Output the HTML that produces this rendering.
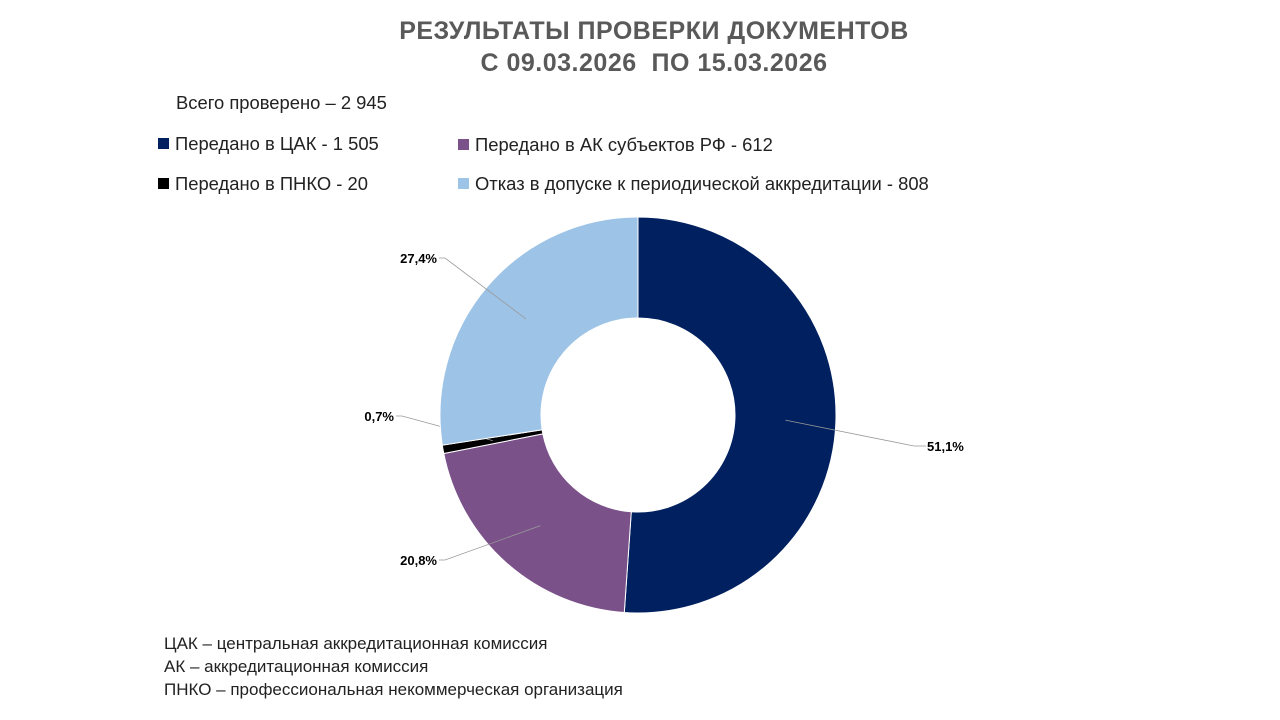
<!DOCTYPE html>
<html><head><meta charset="utf-8">
<style>
body{margin:0;width:1280px;height:720px;background:#fff;font-family:"Liberation Sans","DejaVu Sans",sans-serif;position:relative;overflow:hidden}
.t{position:absolute;white-space:nowrap}
.title{left:0;width:1280px;text-align:center;font-weight:bold;color:#595959;font-size:25px;letter-spacing:0.5px;line-height:32px}
.leg{font-size:18.4px;color:#222}
.sq{display:inline-block;width:11px;height:11px;margin-right:6px;vertical-align:1px}
.note{font-size:17px;color:#222;left:164px}
</style></head><body>
<div class="t title" style="top:15px;left:14px">РЕЗУЛЬТАТЫ ПРОВЕРКИ ДОКУМЕНТОВ<br>С 09.03.2026&nbsp; ПО 15.03.2026</div>
<div class="t leg" style="left:176px;top:92px">Всего проверено – 2 945</div>
<div class="t leg" style="left:158px;top:133px"><span class="sq" style="background:#002060"></span>Передано в ЦАК - 1 505</div>
<div class="t leg" style="left:458px;top:134px"><span class="sq" style="background:#7a5189"></span>Передано в АК субъектов РФ - 612</div>
<div class="t leg" style="left:158px;top:173px"><span class="sq" style="background:#000"></span>Передано в ПНКО - 20</div>
<div class="t leg" style="left:458px;top:173px"><span class="sq" style="background:#9dc3e6"></span>Отказ в допуске к периодической аккредитации - 808</div>
<svg id="c" width="1280" height="720" style="position:absolute;left:0;top:0"></svg>
<div class="t note" style="top:634px">ЦАК – центральная аккредитационная комиссия</div>
<div class="t note" style="top:657px">АК – аккредитационная комиссия</div>
<div class="t note" style="top:680px">ПНКО – профессиональная некоммерческая организация</div>
<script>
const categories=["ЦАК","АК","ПНКО","Отказ"];
const values=[1505,612,20,808];
const labels=["51,1%","20,8%","0,7%","27,4%"];
const colors=["#002060","#7a5189","#000000","#9dc3e6"];
const labelPos=[[946,451],[437,565],[394,421],[437,263]];
const svg=document.getElementById('c');const NS="http://www.w3.org/2000/svg";
const cx=638,cy=415,R=198,r=97;
const total=values.reduce((a,b)=>a+b,0);
function pt(a,rad){return [cx+rad*Math.sin(a),cy-rad*Math.cos(a)];}
let a0=0;
values.forEach((v,i)=>{
 const a1=a0+v/total*2*Math.PI;const lg=(a1-a0)>Math.PI?1:0;
 const p1=pt(a0,R),p2=pt(a1,R),p3=pt(a1,r),p4=pt(a0,r);
 const p=document.createElementNS(NS,'path');
 p.setAttribute('d',`M${p1[0]},${p1[1]}A${R},${R} 0 ${lg} 1 ${p2[0]},${p2[1]}L${p3[0]},${p3[1]}A${r},${r} 0 ${lg} 0 ${p4[0]},${p4[1]}Z`);
 p.setAttribute('fill',colors[i]);p.setAttribute('stroke','#fff');p.setAttribute('stroke-width','1');
 
 
 svg.appendChild(p);
 const am=(a0+a1)/2;const m=pt(am,(R+r)/2);
 const lp=labelPos[i];const left=lp[0]<cx;
 const ex=left?lp[0]+8:lp[0]-32;
 const l=document.createElementNS(NS,'polyline');
 l.setAttribute('points',`${m[0]},${m[1]} ${ex},${lp[1]-5} ${left?lp[0]+2:lp[0]-20},${lp[1]-5}`);
 l.setAttribute('fill','none');l.setAttribute('stroke','#999');l.setAttribute('stroke-width','0.8');
 
 
 svg.appendChild(l);
 const t=document.createElementNS(NS,'text');
 t.setAttribute('x',left?lp[0]:lp[0]-19);t.setAttribute('y',lp[1]);
 t.setAttribute('text-anchor',left?'end':'start');
 t.setAttribute('font-size','13');t.setAttribute('font-weight','bold');t.setAttribute('font-family','Liberation Sans, sans-serif');
 t.textContent=labels[i];
 
 
 svg.appendChild(t);
 a0=a1;
});
</script>
</body></html>
